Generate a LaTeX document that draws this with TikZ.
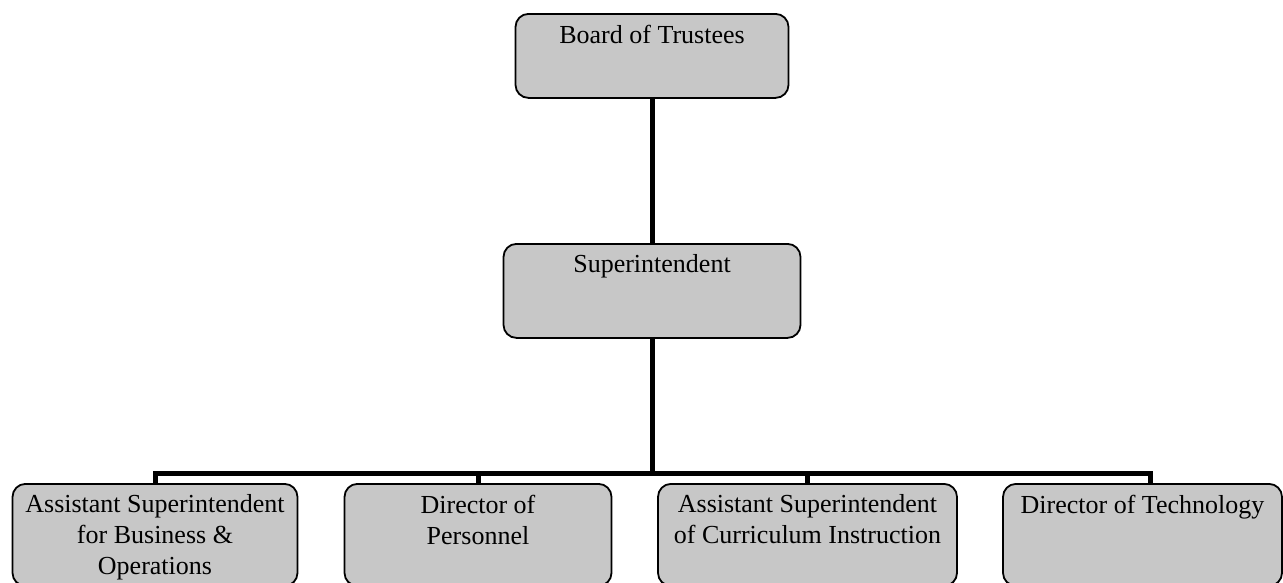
\documentclass[tikz,border=0pt]{standalone}
\usepackage{fontspec}
\setmainfont{Liberation Serif}

% top-aligned text block of fixed size inside an org box
\newcommand{\orgtext}[3]{%
  \begin{minipage}[t][#2][t]{#1}\centering\vspace*{11pt}#3\end{minipage}}

\tikzset{
  orgbox/.style={draw=black, line width=1.8pt, fill=black!22,
    rounded corners=13pt, inner sep=0pt, anchor=north,
    font=\fontsize{26}{31}\selectfont},
  conn/.style={line width=5pt, draw=black, line join=miter}
}

\begin{document}
\begin{tikzpicture}[x=1pt, y=-1pt]
  \fill[white] (0,0) rectangle (1283,582);
  \useasboundingbox (0,0) rectangle (1283,582);
  \clip (0,0) rectangle (1283,582);

  \node[orgbox] (board) at (652,13) {\orgtext{273pt}{84pt}{Board of Trustees}};
  \node[orgbox] (super) at (652,243) {\orgtext{297pt}{94pt}{Superintendent}};

  \node[orgbox] (b1) at (155,483) {\orgtext{285pt}{102pt}{Assistant Superintendent\\for Business \&\\Operations}};
  \node[orgbox] (b2) at (478,483) {\orgtext{267pt}{102pt}{Director of\\Personnel}};
  \node[orgbox] (b3) at (807.5,483) {\orgtext{299pt}{102pt}{Assistant Superintendent\\of Curriculum Instruction}};
  \node[orgbox] (b4) at (1142.5,483) {\orgtext{279pt}{102pt}{Director of Technology}};

  % reporting lines
  \coordinate (bus) at (652,473);
  \coordinate (d4) at (1150,483);
  \draw[conn] (board) -- (super);
  \draw[conn] (super) -- (bus);
  \draw[conn] (b1.north) -- (b1.north |- bus) -- (d4 |- bus) -- (d4);
  \draw[conn] (b2.north) -- (b2.north |- bus);
  \draw[conn] (b3.north) -- (b3.north |- bus);
\end{tikzpicture}
\end{document}
